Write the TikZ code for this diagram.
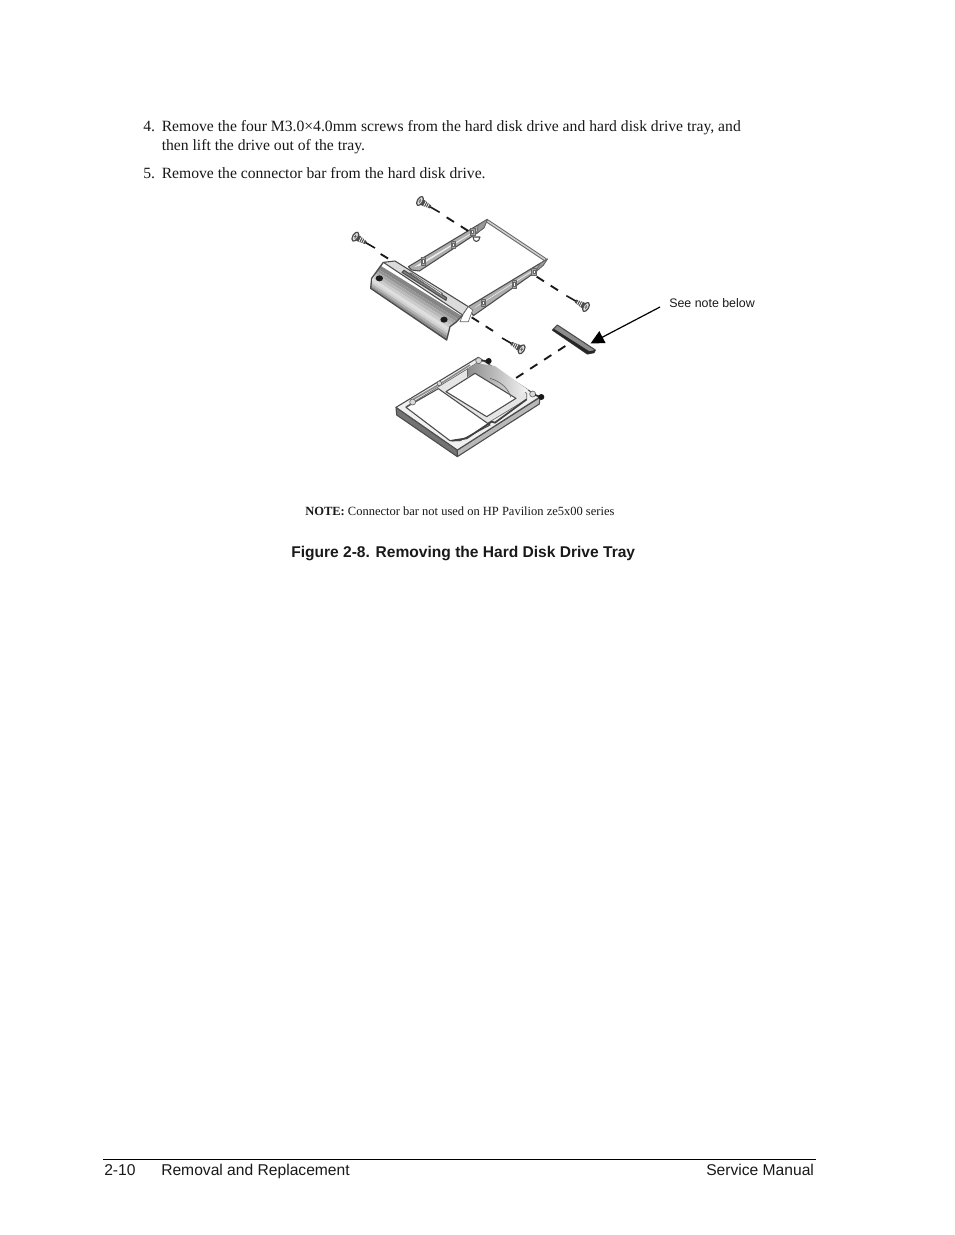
\documentclass[tikz,border=0pt]{standalone}
\usepackage{fontspec}
\setmainfont{Liberation Serif}
\newfontfamily\hsans{Liberation Sans}
\usetikzlibrary{arrows.meta,calc}
\definecolor{ink}{gray}{0.1}
\tikzset{
  txt/.style={inner sep=0pt,anchor=base west,text=ink,font=\fontsize{11.74}{14}\selectfont},
  sans/.style={inner sep=0pt,anchor=base west,text=ink,font=\hsans\fontsize{11.72}{14}\selectfont},
  part/.style={draw=black!70,line width=0.8pt,line join=round},
  thin part/.style={draw=black!60,line width=0.5pt,line join=round},
  dashline/.style={draw=black!90,line width=1.4pt,dash pattern=on 6.5pt off 6pt},
  callout/.style={draw=black,line width=0.9pt,-{Triangle[length=10pt,width=10pt]}}
}
\newcommand{\screwpart}[3]{%
  \begin{scope}[shift={(#1,#2)},rotate=#3]
    \draw[black!90,line width=1.2pt] (30,0) -- (68,0);
    \fill[black!70] (6,-9) -- (12,-9) -- (36,-5) -- (36,5) -- (12,9) -- (6,9) -- cycle;
    \foreach \q in {16,22,28}{\draw[white,line width=0.5pt] (\q,-8) -- (\q+1,8);}
    \draw[part,fill=black!12,line width=0.9pt] (0,0) ellipse (8 and 15);
    \draw[black!60,line width=0.6pt] (-2,-6) -- (2,6) (-4,2) -- (4,-2);
  \end{scope}}
\begin{document}
\begin{tikzpicture}[x=0.75pt,y=-0.75pt]
\useasboundingbox (0,0) rectangle (954,1235);
\fill[white] (0,0) rectangle (954,1235);
% text
\node[txt] (n4) at (143,131) {4.};
\node[txt] (l1) at (161.5,131) {Remove the four M3.0×4.0mm screws from the hard disk drive and hard disk drive tray, and};
\node[txt] (l2) at (161.5,150) {then lift the drive out of the tray.};
\node[txt] (n5) at (143,178) {5.};
\node[txt] (l3) at (161.5,178) {Remove the connector bar from the hard disk drive.};
\node[txt,font=\fontsize{9.37}{11}\selectfont] (note) at (305,515) {\textbf{NOTE:} Connector bar not used on HP Pavilion ze5x00 series};
\node[sans,font=\hsans\bfseries\fontsize{11.67}{14}\selectfont] (cap) at (291,557) {Figure 2-8. Removing the Hard Disk Drive Tray};
\node[sans,font=\hsans\fontsize{9.3}{11}\selectfont] (see) at (669,307) {See note below};
\node[sans] (f1) at (104,1175) {2-10};
\node[sans] (f2) at (161,1175) {Removal and Replacement};
\node[sans] (f3) at (706,1175) {Service Manual};
\coordinate (ruleL) at (103,1159);
\coordinate (ruleR) at (816,1159);
\draw[black,line width=0.6pt] (ruleL) -- (ruleR);
% tray, in zoom coordinates
\begin{scope}[shift={(340,185)},scale=1/3]
  % back rail
  \draw[black!60,line width=2.6pt,line cap=round] (442,108) -- (616,224);
  \draw[black!18,line width=1.1pt,line cap=round] (442,108) -- (616,224);
  % upper rail
  \draw[part,fill=black!32] (205,245) -- (442,103) -- (432,128) -- (410,145) -- (238,258) -- (215,255) -- cycle;
  \fill[black!7] (222,246) -- (428,124) -- (405,140) -- (240,242) -- cycle;
  \draw[thin part,fill=black!40] (442,103) -- (415,120) -- (410,145) -- (432,128) -- cycle;
  % lower rail
  \draw[part,fill=black!32] (385,365) -- (622,222) -- (610,240) -- (585,262) -- (400,392) -- (392,380) -- cycle;
  \fill[black!7] (402,370) -- (600,245) -- (575,258) -- (415,360) -- cycle;
  \draw[thin part,fill=black!40] (622,222) -- (600,236) -- (585,262) -- (610,240) -- cycle;
  % tabs on rails
  \foreach \a/\b in {250/228,340/178,398/140,430/352,523/297,582/260}{
    \draw[thin part,fill=black!35] (\a-7,\b-10) rectangle (\a+7,\b+12);
    \draw[thin part,fill=white] (\a-3,\b-4) rectangle (\a+3,\b+6);
  }
  \draw[part,fill=white] (399,156) .. controls (400,174) and (418,174) .. (420,156) -- cycle;
  % bezel face, in bands
  \coordinate (tl) at (118,240); \coordinate (tr) at (380,402);
  \coordinate (bl) at (85,315);  \coordinate (br) at (330,480);
  \begin{scope}
    \clip (130,232) -- (385,365) -- (350,410) -- (330,425) -- (320,465) -- (92,310) -- (95,280) -- cycle;
    \foreach \i/\j/\g in {0/.15/48,.15/.25/42,.25/.35/34,.35/.45/27,.45/.55/20,.55/.65/13,.65/.73/18,.73/.81/30,.81/.89/44,.89/1.02/58}{
      \fill[black!\g] ($(tl)!\i!(bl)$) -- ($(tr)!\i!(br)$) -- ($(tr)!\j!(br)$) -- ($(tl)!\j!(bl)$) -- cycle;
    }
  \end{scope}
  % bezel top strip
  \draw[part,fill=black!14] (130,232) -- (165,228) -- (385,365) -- (368,390) -- cycle;
  \draw[thin part,fill=white] (368,390) -- (385,365) -- (398,375) -- (385,410) -- (360,410) -- cycle;
  \draw[part,fill=black!50] (186,262) -- (192,256) -- (320,338) -- (318,346) -- cycle;
  \draw[thin part,fill=white] (208,264) -- (214,264) -- (308,326) -- (302,328) -- cycle;
  \draw[part,line width=1pt] (130,232) -- (95,280) -- (92,310) -- (320,465) -- (330,425) -- (350,410) -- (368,390);
  \fill[black!90] (118,280) ellipse (11 and 9);
  \fill[black!90] (312,404) ellipse (11 and 9);
  % dashed lines
  \coordinate (d1a) at (320,97);  \coordinate (d1b) at (385,138);
  \coordinate (d2a) at (122,207); \coordinate (d2b) at (158,229);
  \coordinate (d3a) at (590,275); \coordinate (d3b) at (662,321);
  \coordinate (d4a) at (395,397); \coordinate (d4b) at (475,448);
  \draw[dashline] (d1a) -- (d1b);
  \draw[dashline] (d2a) -- (d2b);
  \draw[dashline] (d3a) -- (d3b);
  \draw[dashline] (d4a) -- (d4b);
  % screws
  \screwpart{240}{48}{-30}
  \screwpart{46}{155}{-30}
  \screwpart{738}{366}{150}
  \screwpart{545}{493}{150}
\end{scope}
% drive + bar, in zoom 2 coordinates
\begin{scope}[shift={(380,310)},scale=1/3]
  \draw[part,fill=black!55] (48,292) -- (232,420) -- (232,440) -- (50,315) -- cycle;
  \draw[part,fill=black!28] (232,420) -- (480,262) -- (478,282) -- (232,440) -- cycle;
  \draw[part,fill=black!6] (48,292) -- (295,142) -- (478,262) -- (232,420) -- cycle;
  \draw[thin part,fill=black!10] (78,290) -- (260,178) -- (292,158) -- (440,250) -- (440,268) -- (335,332) -- (240,392) -- (210,392) -- cycle;
  % recess shading
  \shade[left color=black!45,right color=black!4] (262,176) -- (292,160) -- (345,168) -- (445,240) -- (420,258) -- (392,262) -- (285,190) -- (262,200) -- cycle;
  \draw[thin part] (262,176) -- (262,200);
  \draw[part,fill=white] (198,245) -- (285,190) -- (408,265) -- (320,320) -- cycle;
  \draw[part,fill=white] (78,292) -- (175,236) -- (330,345) -- (240,392) -- (210,392) -- cycle;
  \draw[thin part] (330,205) .. controls (365,215) and (388,240) .. (392,262);
  \draw[black!75,line width=1.3pt] (215,392) -- (260,385) -- (335,335) -- (345,338) -- (440,268);
  \draw[thin part,black!45,line width=1.2pt] (100,268) -- (180,222) -- (270,165);
  \draw[thin part,fill=black!15] (98,276) circle (9);
  \draw[thin part,fill=black!15] (178,220) circle (7);
  \draw[thin part,fill=black!15] (296,152) circle (9);
  \draw[thin part,fill=black!15] (458,252) circle (9);
  \draw[black!80,line width=1.2pt] (305,152) -- (326,153) (465,255) -- (484,261);
  \fill[black!90] (326,153) circle (9);
  \fill[black!90] (484,261) circle (9);
  % connector bar
  \draw[part,fill=black!45] (517,60) -- (532,45) -- (646,120) -- (642,128) -- (622,132) -- cycle;
  \fill[black!85] (519,62) -- (622,132) -- (642,128) -- (646,120) -- (628,124) -- (521,56) -- cycle;
  \coordinate (barEnd) at (556,108);
  \coordinate (driveEnd) at (405,206);
  \draw[dashline] (barEnd) -- (driveEnd);
  \coordinate (arrowTip) at (632,100);
\end{scope}
\coordinate (arrowFrom) at (660,307);
\draw[callout] (arrowFrom) -- (arrowTip);
\end{tikzpicture}
\end{document}
